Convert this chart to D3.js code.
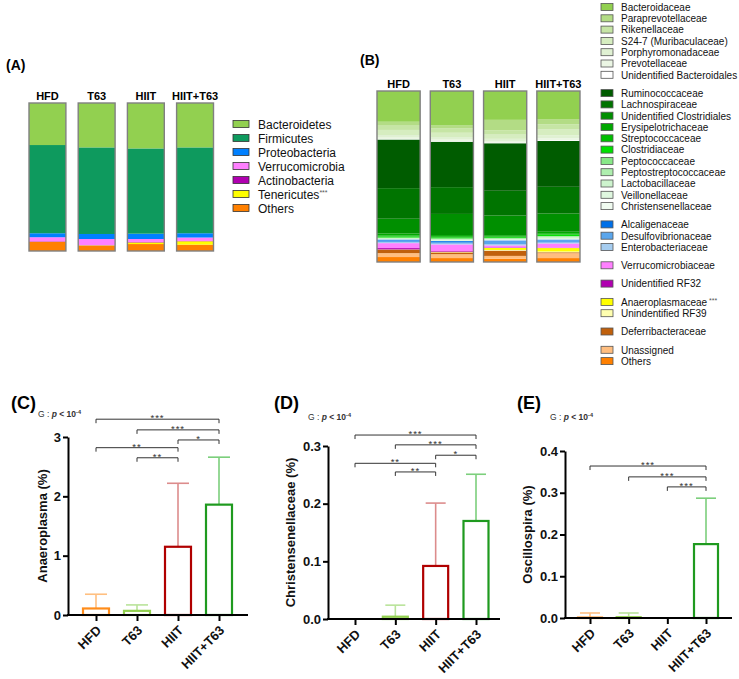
<!DOCTYPE html>
<html><head><meta charset="utf-8">
<script src="https://cdn.jsdelivr.net/npm/d3@7"></script>
<style>body{margin:0;background:#fff} svg{display:block;font-family:"Liberation Sans",Arial,sans-serif}</style>
</head><body><svg id="c" width="739" height="679"></svg>
<script>
// ---------------- DATA ----------------
const groups = ["HFD", "T63", "HIIT", "HIIT+T63"];

// Panel A: phylum relative abundance (%), per group
const phyla = ["Bacteroidetes", "Firmicutes", "Proteobacteria", "Verrucomicrobia", "Actinobacteria", "Tenericutes", "Others"];
const phylumValues = [
  [28.4, 30.0, 30.7, 30.0],
  [59.6, 58.5, 57.6, 58.0],
  [2.7, 3.4, 3.6, 2.9],
  [2.7, 4.1, 2.0, 2.3],
  [0.3, 0.2, 0.3, 0.2],
  [0.1, 0.4, 1.1, 2.3],
  [6.2, 3.4, 4.7, 4.3]
];
const phylumColors = ["#92d050", "#0e9a5e", "#0080ff", "#ff80ff", "#b000b0", "#ffff00", "#ff8000"];
const phylumStars = ["", "", "", "", "", "***", ""];

// Panel B: family relative abundance (%), per group
const families = ["Bacteroidaceae", "Paraprevotellaceae", "Rikenellaceae", "S24-7 (Muribaculaceae)", "Porphyromonadaceae",
  "Prevotellaceae", "Unidentified Bacteroidales",
  "Ruminococcaceae", "Lachnospiraceae", "Unidentified Clostridiales", "Erysipelotrichaceae", "Streptococcaceae",
  "Clostridiaceae", "Peptococcaceae", "Peptostreptococcaceae", "Lactobacillaceae", "Veillonellaceae", "Christensenellaceae",
  "Alcaligenaceae", "Desulfovibrionaceae", "Enterobacteriaceae",
  "Verrucomicrobiaceae", "Unidentified RF32", "Anaeroplasmaceae", "Unindentified RF39",
  "Deferribacteraceae", "Unassigned", "Others"];
const familyGroup = [0,0,0,0,0,0,0, 1,1,1,1,1,1,1,1,1,1,1, 2,2,2, 3, 4, 5,5, 6, 7,7];
const familyStars = families.map(f => f === "Anaeroplasmaceae" ? "***" : "");
const familyValues = [
  [18.0, 20.0, 17.0, 16.5],
  [2.3, 2.0, 6.2, 3.1],
  [2.5, 2.5, 2.5, 3.0],
  [3.0, 2.5, 2.5, 3.5],
  [1.5, 1.5, 1.5, 1.7],
  [0.8, 1.0, 0.8, 1.0],
  [0.3, 0.3, 0.3, 0.5],
  [28.5, 26.6, 28.0, 27.0],
  [17.9, 15.7, 14.6, 15.7],
  [8.7, 12.4, 11.6, 10.7],
  [1.2, 1.0, 0.8, 1.2],
  [0.5, 0.4, 0.4, 0.5],
  [0.6, 0.5, 0.5, 0.8],
  [0.3, 0.4, 0.3, 0.4],
  [0.2, 0.3, 0.2, 0.3],
  [0.4, 0.6, 0.4, 0.8],
  [0.2, 0.2, 0.2, 0.3],
  [0.1, 0.1, 0.3, 0.3],
  [0.6, 0.5, 0.6, 0.5],
  [1.0, 1.0, 1.5, 1.3],
  [0.5, 0.5, 0.8, 0.5],
  [2.9, 3.9, 1.2, 2.5],
  [0.8, 0.4, 0.3, 0.2],
  [0.1, 0.2, 1.2, 2.0],
  [0.05, 0.2, 0.4, 0.5],
  [2.0, 1.0, 3.1, 0.5],
  [2.3, 2.3, 1.7, 2.9],
  [2.9, 2.3, 1.9, 2.3]
];
const familyColors = ["#92d050", "#b3dc85", "#c6e5a5", "#d6edc0", "#e0f1d3", "#ebf6e4", "#ffffff",
  "#005c00", "#007400", "#008f00", "#00a800", "#00bf00", "#00e000", "#88e888", "#aeeeae", "#cdf3cd", "#dff7df", "#f0fbf0",
  "#0070e8", "#5aa6ec", "#a6cdf0", "#ff80ff", "#b000b0", "#ffff00", "#ffffb0", "#c0600c", "#ffbe80", "#ff8000"];

// Panels C-E: mean and SD (%)
const anaeroplasmaMean = [0.11, 0.07, 1.15, 1.86];
const anaeroplasmaSD = [0.24, 0.10, 1.07, 0.80];
const christensenellaceaeMean = [0, 0.004, 0.092, 0.170];
const christensenellaceaeSD = [0, 0.020, 0.109, 0.081];
const oscillospiraMean = [0.001, 0.002, 0, 0.177];
const oscillospiraSD = [0.011, 0.010, 0, 0.110];

const anaeroplasmaTicks = [0, 1, 2, 3];
const christensenellaceaeTicks = [0, 0.1, 0.2, 0.3];
const oscillospiraTicks = [0, 0.1, 0.2, 0.3, 0.4];

// comparisons: [group i, group j, label, bracket height in data units]
const anaeroplasmaSig = [[0,3,"***",3.30],[1,3,"***",3.12],[2,3,"*",2.95],[0,2,"**",2.82],[1,2,"**",2.65]];
const christensenellaceaeSig = [[0,3,"***",0.319],[1,3,"***",0.302],[2,3,"*",0.284],[0,2,"**",0.270],[1,2,"**",0.255]];
const oscillospiraSig = [[0,3,"***",0.364],[1,3,"***",0.338],[2,3,"***",0.314]];

const barColors = ["#ff8c1a", "#92d050", "#b00000", "#1f9a1f"];
const errColors = ["#ffbf80", "#b9e39a", "#dc8c8c", "#7ccf7c"];

// ---------------- DRAW ----------------
const svg = d3.select("#c");

function stacked(x0, x1, pad, yTop, yBot, names, values, colors, labelY) {
  const rows = groups.map((g, i) => {
    const o = {group: g};
    names.forEach((n, k) => o[n] = values[k][i]);
    return o;
  });
  const keys = names.slice().reverse();
  const series = d3.stack().keys(keys).offset(d3.stackOffsetExpand)(rows);
  const x = d3.scaleBand().domain(groups).range([x0, x1]).paddingInner(pad).paddingOuter(0);
  const y = d3.scaleLinear().domain([0, 1]).range([yBot, yTop]);
  const color = d3.scaleOrdinal().domain(names).range(colors);
  const g = svg.append("g");
  g.selectAll("g.s").data(series).join("g").attr("fill", d => color(d.key))
    .selectAll("rect").data(d => d).join("rect")
    .attr("x", d => x(d.data.group)).attr("width", x.bandwidth())
    .attr("y", d => y(d[1])).attr("height", d => Math.max(0, y(d[0]) - y(d[1])));
  g.selectAll("rect.o").data(groups).join("rect").attr("class", "o")
    .attr("x", d => x(d)).attr("width", x.bandwidth()).attr("y", y(1)).attr("height", y(0) - y(1))
    .attr("fill", "none").attr("stroke", "#808080").attr("stroke-width", 1.4);
  g.selectAll("text.l").data(groups).join("text").attr("class", "l")
    .attr("x", d => x(d) + x.bandwidth() / 2).attr("y", labelY)
    .attr("text-anchor", "middle").attr("font-size", 11).attr("font-weight", "bold").text(d => d);
}

// Panel A
svg.append("text").attr("x", 6).attr("y", 70).attr("font-size", 14).attr("font-weight", "bold").text("(A)");
stacked(29, 213.5, 0.25, 103, 251, phyla, phylumValues, phylumColors, 100);
const legA = svg.append("g");
phyla.forEach((p, i) => {
  const yy = 124 + i * 14;
  legA.append("rect").attr("x", 233).attr("y", yy - 3.5).attr("width", 16).attr("height", 7)
    .attr("fill", phylumColors[i]).attr("stroke", "#333").attr("stroke-width", 0.8);
  const t = legA.append("text").attr("x", 258).attr("y", yy + 4.5).attr("font-size", 12).attr("fill", "#111").text(p);
  if (phylumStars[i]) t.append("tspan").attr("font-size", 7).attr("dy", -4).attr("fill", "#555").text(phylumStars[i]);
});

// Panel B
svg.append("text").attr("x", 360).attr("y", 65).attr("font-size", 14).attr("font-weight", "bold").text("(B)");
stacked(377, 580, 0.19, 91, 262, families, familyValues, familyColors, 88);
const legB = svg.append("g");
let ly = 7;
families.forEach((f, i) => {
  if (i > 0) ly += 11.3 + (familyGroup[i] !== familyGroup[i - 1] ? 7 : 0);
  legB.append("rect").attr("x", 601).attr("y", ly - 3.5).attr("width", 12).attr("height", 7)
    .attr("fill", familyColors[i]).attr("stroke", "#555").attr("stroke-width", 0.8);
  const t = legB.append("text").attr("x", 621).attr("y", ly + 3.8).attr("font-size", 10).attr("fill", "#111").text(f);
  if (familyStars[i]) t.append("tspan").attr("font-size", 7).attr("dy", -3).attr("fill", "#555").text(" " + familyStars[i]);
});

// Bar panels
function barPanel(cfg) {
  const g = svg.append("g");
  const y = d3.scaleLinear().domain([0, d3.max(cfg.ticks)]).range([cfg.y0, cfg.y1]);
  const x = d3.scalePoint().domain(groups).range([cfg.xFirst, cfg.xLast]);
  g.append("text").attr("x", cfg.labelX).attr("y", 409).attr("font-size", 18).attr("font-weight", "bold").text(cfg.label);
  const gt = g.append("text").attr("x", cfg.gX).attr("y", cfg.gY).attr("font-size", 8.5).attr("fill", "#333");
  gt.append("tspan").text("G : ");
  gt.append("tspan").attr("font-weight", "bold").attr("font-style", "italic").text("p");
  gt.append("tspan").attr("font-weight", "bold").text(" < 10");
  gt.append("tspan").attr("font-weight", "bold").attr("font-size", 5.5).attr("dy", -3).text("-4");
  groups.forEach((grp, i) => {
    const m = cfg.mean[i], s = cfg.sd[i];
    if (s <= 0) return;
    const cx = x(grp);
    g.append("line").attr("x1", cx).attr("x2", cx).attr("y1", y(m)).attr("y2", y(m + s))
      .attr("stroke", errColors[i]).attr("stroke-width", 1.6);
    g.append("line").attr("x1", cx - cfg.cap / 2).attr("x2", cx + cfg.cap / 2).attr("y1", y(m + s)).attr("y2", y(m + s))
      .attr("stroke", errColors[i]).attr("stroke-width", 1.6);
  });
  groups.forEach((grp, i) => {
    const m = cfg.mean[i];
    if (m <= 0) return;
    g.append("rect").attr("x", x(grp) - cfg.bw / 2).attr("width", cfg.bw)
      .attr("y", y(m)).attr("height", Math.max(0, y(0) - y(m)))
      .attr("fill", "#fff").attr("stroke", barColors[i]).attr("stroke-width", 2.2);
  });
  const ya = g.append("g").attr("transform", `translate(${cfg.axisX},0)`)
    .call(d3.axisLeft(y).tickValues(cfg.ticks).tickFormat(cfg.fmt).tickSize(5).tickSizeOuter(0));
  ya.select(".domain").attr("stroke", "#000").attr("stroke-width", 2);
  ya.selectAll(".tick line").attr("stroke", "#000").attr("stroke-width", 2);
  ya.selectAll(".tick text").attr("font-size", 13).attr("font-weight", "bold").attr("fill", "#111")
    .attr("font-family", '"Liberation Sans",Arial,sans-serif').attr("x", -7);
  const xa = g.append("g").attr("transform", `translate(0,${cfg.y0})`)
    .call(d3.axisBottom(x).tickSize(6).tickFormat(""));
  xa.select(".domain").remove();
  xa.selectAll(".tick line").attr("stroke", "#000").attr("stroke-width", 2);
  g.append("line").attr("x1", cfg.axisX - 1).attr("x2", cfg.axisEnd).attr("y1", cfg.y0).attr("y2", cfg.y0)
    .attr("stroke", "#000").attr("stroke-width", 2);
  groups.forEach(grp => {
    g.append("text").attr("transform", `translate(${x(grp) + 3},${cfg.y0 + 13}) rotate(-45)`)
      .attr("text-anchor", "end").attr("dy", "0.35em").attr("font-size", 13).attr("font-weight", "bold")
      .attr("fill", "#111").text(grp);
  });
  g.append("text").attr("transform", `translate(${cfg.titleX},${(cfg.y0 + cfg.y1) / 2}) rotate(-90)`)
    .attr("text-anchor", "middle").attr("dy", "0.35em").attr("font-size", 13).attr("font-weight", "bold")
    .attr("fill", "#111").text(cfg.title);
  cfg.sig.forEach(([a, b, lab, h]) => {
    const xa1 = x(groups[a]), xb1 = x(groups[b]), yy = y(h);
    g.append("path").attr("d", `M${xa1},${yy + 4}V${yy}H${xb1}V${yy + 4}`)
      .attr("fill", "none").attr("stroke", "#333").attr("stroke-width", 1);
    g.append("text").attr("x", (xa1 + xb1) / 2).attr("y", yy + 2).attr("text-anchor", "middle")
      .attr("font-size", 9.5).attr("letter-spacing", 1).attr("fill", "#333").text(lab);
  });
}

barPanel({label: "(C)", labelX: 11, gX: 38, gY: 417, mean: anaeroplasmaMean, sd: anaeroplasmaSD,
  ticks: anaeroplasmaTicks, fmt: d3.format("d"), y0: 615, y1: 437, xFirst: 96, xLast: 219, axisX: 68, axisEnd: 248,
  bw: 26, cap: 22, title: "Anaeroplasma (%)", titleX: 42, sig: anaeroplasmaSig});
barPanel({label: "(D)", labelX: 274, gX: 308, gY: 420, mean: christensenellaceaeMean, sd: christensenellaceaeSD,
  ticks: christensenellaceaeTicks, fmt: d3.format(".1f"), y0: 619, y1: 446, xFirst: 355, xLast: 476, axisX: 328, axisEnd: 500,
  bw: 25, cap: 20, title: "Christensenellaceae (%)", titleX: 290, sig: christensenellaceaeSig});
barPanel({label: "(E)", labelX: 517, gX: 550, gY: 420, mean: oscillospiraMean, sd: oscillospiraSD,
  ticks: oscillospiraTicks, fmt: d3.format(".1f"), y0: 618, y1: 451, xFirst: 590, xLast: 706, axisX: 565, axisEnd: 732,
  bw: 24, cap: 20, title: "Oscillospira (%)", titleX: 527, sig: oscillospiraSig});
</script>
</body></html>
